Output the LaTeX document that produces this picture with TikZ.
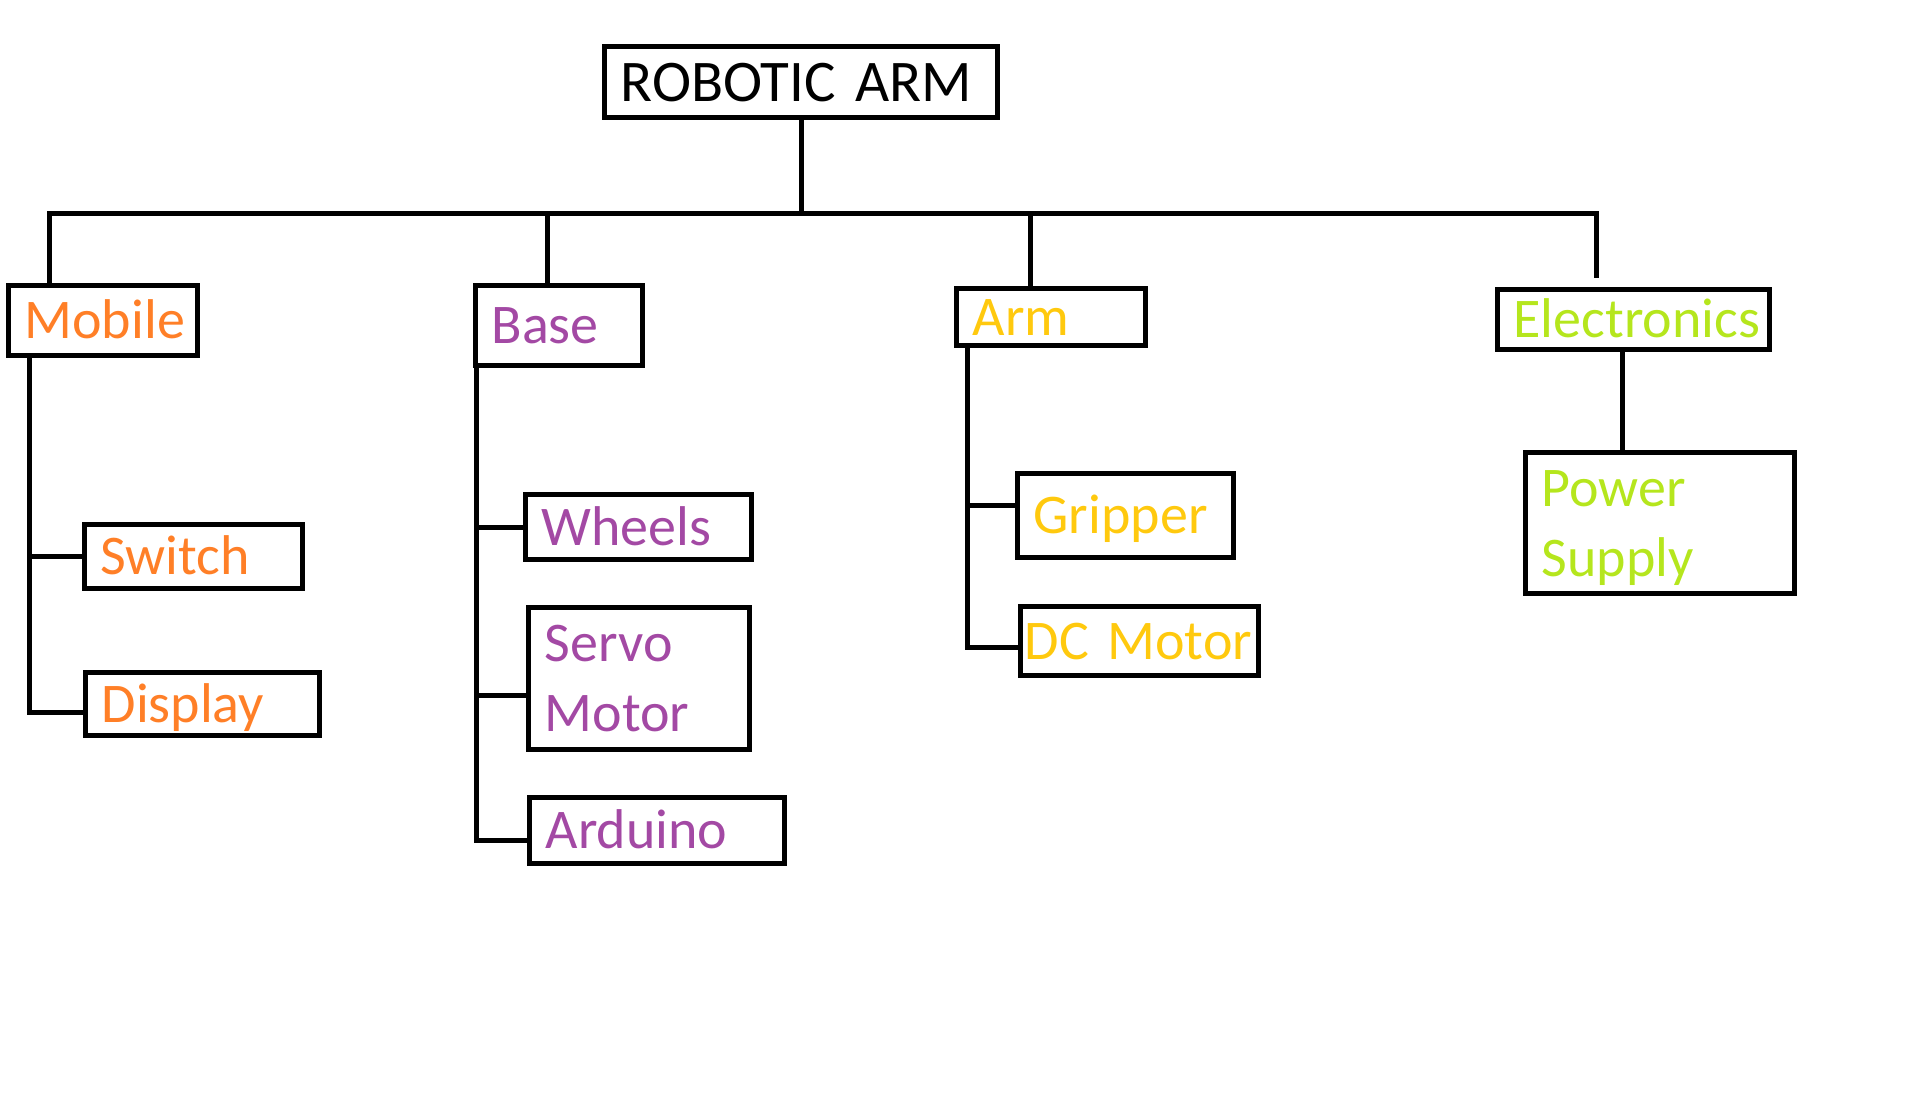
\documentclass[tikz,border=0pt]{standalone}
\usepackage{fontspec}
\setmainfont{Carlito}
\usepackage{xcolor}
\definecolor{mobileorange}{HTML}{FF7F27}
\definecolor{basepurple}{HTML}{A349A4}
\definecolor{armgold}{HTML}{FFC90E}
\definecolor{powergreen}{HTML}{B5E61D}

\begin{document}
\begin{tikzpicture}[x=0.5pt, y=-0.5pt,
    box/.style={rectangle, draw, line width=2.6pt, anchor=north west, inner xsep=8pt, inner ysep=0pt, align=left, text height=18pt, text depth=0pt, font=\fontsize{28}{35}\selectfont},
    twoline/.style={text depth=35pt},
    link/.style={line width=2.5pt}
]
    \useasboundingbox (0,0) rectangle (1910,1103);

    \node[box, text width=180.5pt, minimum height=35.5pt, text height=19pt, font=\fontsize{29.5}{35}\selectfont] (robot) at (602,44) {ROBOTIC ARM};

    \node[box, text=mobileorange, text width=78.5pt, minimum height=35pt] (mobile) at (6,283) {Mobile};
    \node[box, text=basepurple, text width=67.5pt, minimum height=40pt] (base) at (473,283) {Base};
    \node[box, text=armgold, text width=78.5pt, minimum height=28.5pt] (arm) at (954,286) {Arm};
    \node[box, text=powergreen, text width=120pt, minimum height=30pt] (elec) at (1495,287) {Electronics};

    \node[box, text=mobileorange, text width=93pt, minimum height=32pt] (switch) at (82,522) {Switch};
    \node[box, text=mobileorange, text width=101pt, minimum height=31.5pt] (display) at (83,670) {Display};

    \node[box, text=basepurple, text width=97pt, minimum height=32.5pt] (wheels) at (523,492) {Wheels};
    \node[box, twoline, text=basepurple, text width=94.5pt, minimum height=71pt] (servo) at (526,605) {Servo\\Motor};
    \node[box, text=basepurple, text width=111.5pt, minimum height=33pt] (arduino) at (527,795) {Arduino};

    \node[box, text=armgold, text width=92pt, minimum height=42pt] (gripper) at (1015,471) {Gripper};
    \node[box, text=armgold, inner xsep=2pt, text width=115pt, minimum height=34.5pt] (dcmotor) at (1018,604) {DC Motor};

    \node[box, twoline, text=powergreen, text width=118.5pt, minimum height=70.5pt] (power) at (1523,450) {Power\\Supply};

    \coordinate (bus) at (794,213);
    \draw[link] (robot.south) -- (robot.south |- bus);
    \draw[link] ([xshift=21.5pt]mobile.north west) |- (bus) -| ([xshift=50.5pt, yshift=4.5pt]elec.north west);
    \draw[link] ([xshift=37pt]base.north west) -- ([xshift=37pt]base.north west |- bus);
    \draw[link] ([xshift=38pt]arm.north west) -- ([xshift=38pt]arm.north west |- bus);

    \draw[link] ([xshift=11.5pt]mobile.south west) |- (switch.west);
    \draw[link] ([xshift=11.5pt]mobile.south west) |- ([yshift=-4pt]display.west);
    \draw[link] ([xshift=1.5pt]base.south west) |- (wheels.west);
    \draw[link] ([xshift=1.5pt]base.south west) |- ([yshift=-8.5pt]servo.west);
    \draw[link] ([xshift=1.5pt]base.south west) |- ([yshift=-5pt]arduino.west);
    \draw[link] ([xshift=6.5pt]arm.south west) |- ([yshift=5pt]gripper.west);
    \draw[link] ([xshift=6.5pt]arm.south west) |- ([yshift=-3pt]dcmotor.west);
    \draw[link] ([xshift=63.5pt]elec.south west) -- ([xshift=63.5pt]elec.south west |- power.north);
\end{tikzpicture}
\end{document}
